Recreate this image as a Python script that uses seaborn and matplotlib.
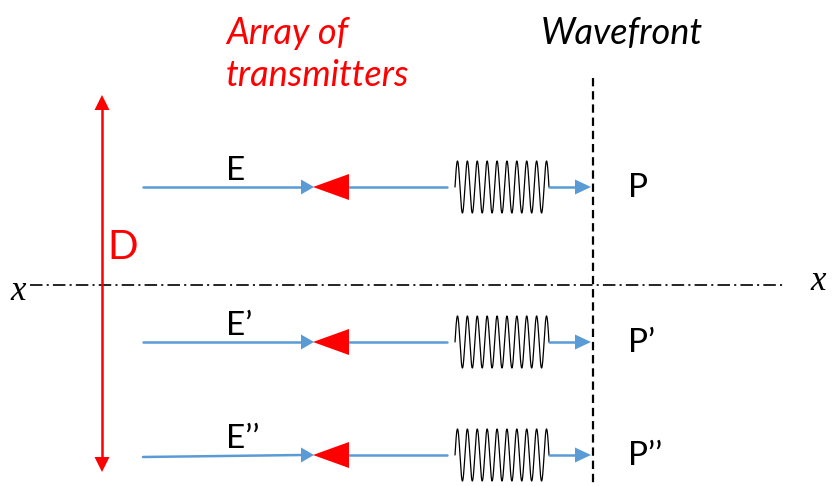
import numpy as np
import matplotlib
matplotlib.use("Agg")
import matplotlib.pyplot as plt
import seaborn as sns
import pandas as pd

# ---- data (diagram layout in pixel units) ----
row_y = [187, 342, 455]          # y of each transmitter row
row_y_left = [187, 342, 457]     # y at the left start of each row
e_labels = ["E", "E\u2019", "E\u2019\u2019"]
p_labels = ["P", "P\u2019", "P\u2019\u2019"]
axis_labels = ["x", "x"]
title_left = ["Array of", "transmitters"]
title_right = "Wavefront"
d_label = "D"

BLUE = "#5B9BD5"
RED = "#FF0000"

sns.set_theme(style="white")
plt.rcParams["lines.scale_dashes"] = False
plt.rcParams["font.family"] = ["Lato", "DejaVu Sans"]
plt.rcParams["text.color"] = "black"

fig = plt.figure(figsize=(8.33, 4.86), dpi=100)
ax = fig.add_axes([0, 0, 1, 1])
ax.set_xlim(0, 833)
ax.set_ylim(486, 0)
ax.axis("off")

# horizontal dash-dot axis
ax.plot([30, 785], [285, 285], color="black", lw=1.2, dashes=(9, 3, 1.5, 3))
ax.text(18, 291, axis_labels[0], fontsize=25, family="Liberation Serif",
        style="italic", ha="center", va="center", color="black")
ax.text(818, 281, axis_labels[1], fontsize=25, family="Liberation Serif",
        style="italic", ha="center", va="center", color="black")

# vertical dashed wavefront line
ax.plot([593, 593], [78, 486], color="black", lw=1.6, dashes=(6, 3.5))

# red double arrow D
ax.plot([102, 102], [108, 459], color=RED, lw=1.8)
ax.fill([94.5, 109.5, 102], [110, 110, 95], color=RED, lw=0)
ax.fill([94.5, 109.5, 102], [457, 457, 472], color=RED, lw=0)
ax.text(107, 247, d_label, color=RED, fontsize=29, ha="left", va="center")

def tri_right(xtip, y, length, half, color):
    ax.fill([xtip - length, xtip - length, xtip], [y - half, y + half, y],
            color=color, lw=0, zorder=3)

def tri_left(xtip, y, length, half, color):
    ax.fill([xtip + length, xtip + length, xtip], [y - half, y + half, y],
            color=color, lw=0, zorder=3)

t = np.linspace(0, 1, 800)
for yl, yc, el, pl in zip(row_y_left, row_y, e_labels, p_labels):
    # left blue arrow
    seg = pd.DataFrame({"x": [143, 302], "y": [yl, yc]})
    sns.lineplot(data=seg, x="x", y="y", ax=ax, color=BLUE, lw=1.8, sort=False)
    tri_right(314, yc, 13, 7.5, BLUE)
    # red transmitter triangle
    tri_left(313, yc, 36, 13, RED)
    # middle blue line
    ax.plot([349, 447], [yc, yc], color=BLUE, lw=1.8)
    # spring / wave
    sx = 455 + 94 * t
    sy = yc - 26 * np.sin(2 * np.pi * 9.5 * t)
    spring = pd.DataFrame({"x": sx, "y": sy})
    sns.lineplot(data=spring, x="x", y="y", ax=ax, color="black", lw=0.9,
                 sort=False)
    # right blue arrow
    ax.plot([549, 578], [yc, yc], color=BLUE, lw=1.8)
    tri_right(591, yc, 16, 7.5, BLUE)
    # labels
    ax.text(226, yc - 16, el, fontsize=24, ha="left", va="center", color="black")
    ax.text(628, yc + 1, pl, fontsize=24, ha="left", va="center", color="black")

ax.set_xlabel("")
ax.set_ylabel("")

# titles
ax.text(226, 33, title_left[0], color=RED, fontsize=26, style="italic",
        ha="left", va="center")
ax.text(226, 76, title_left[1], color=RED, fontsize=26, style="italic",
        ha="left", va="center")
ax.text(541, 33, title_right, color="black", fontsize=26, style="italic",
        ha="left", va="center")

fig.savefig("out.png", dpi=100)
